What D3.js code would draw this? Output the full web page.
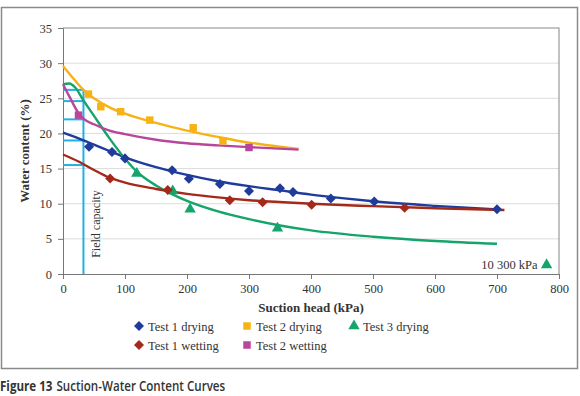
<!DOCTYPE html>
<html>
<head>
<meta charset="utf-8">
<script src="https://cdn.jsdelivr.net/npm/d3@7"></script>
<style>
  body { margin: 0; background: #fff; }
  svg text { font-family: "Liberation Serif", "DejaVu Serif", serif; fill: #333; }
</style>
</head>
<body>
<div id="chart"></div>
<script>
// measured points
const test1Drying = [[42,18.1],[79,17.35],[100,16.45],[176,14.75],[203,13.55],[253,12.8],[300,11.8],[350,12.2],[371,11.65],[432,10.75],[502,10.3],[700,9.2]];
const test1Wetting = [[76,13.6],[169,11.95],[269,10.5],[322,10.2],[401,9.86],[551,9.43]];
const test2Drying = [[41,25.6],[61,23.8],[93,23.1],[140,21.9],[210,20.8],[258,18.95]];
const test2Wetting = [[25,22.6],[300,18.0]];
const test3Drying = [[119,14.3],[177,11.8],[205,9.2],[346,6.5]];

// fitted curves
const fit1Drying = [[0,20.1],[25,19.3],[50,18.4],[75,17.5],[100,16.6],[150,15.2],[200,14.1],[250,13.2],[300,12.5],[350,11.9],[400,11.3],[450,10.8],[500,10.35],[600,9.7],[700,9.2]];
const fit1Wetting = [[0,17.0],[25,16.0],[50,14.8],[75,13.7],[100,13.0],[150,12.1],[200,11.4],[250,10.9],[300,10.5],[400,10.0],[500,9.65],[600,9.35],[712,9.1]];
const fit2Drying = [[0,29.6],[15,28.0],[33,26.2],[50,25.0],[75,23.7],[100,22.8],[150,21.5],[200,20.4],[250,19.5],[300,18.7],[350,18.1],[380,17.8]];
const fit2Wetting = [[0,27.0],[10,25.3],[25,22.9],[33,22.1],[50,21.3],[75,20.4],[100,19.9],[150,19.1],[200,18.6],[250,18.3],[300,18.05],[380,17.7]];
const fit3Drying = [[0,27.0],[10,27.1],[20,26.5],[33,24.7],[50,22.5],[75,19.3],[100,16.4],[120,14.5],[150,12.6],[175,11.4],[200,10.4],[250,8.9],[300,7.8],[350,6.9],[400,6.2],[500,5.3],[600,4.7],[700,4.3]];

const fieldCapacity = 33;
const fieldLevels = [26.2, 24.6, 22.0, 19.0, 15.5];
const outlier = {label: "10 300 kPa", x: 780, y: 1.3};

const xTicks = [0,100,200,300,400,500,600,700,800];
const yTicks = [0,5,10,15,20,25,30,35];

const series = [
  {name: "Test 1 drying",  pts: test1Drying,  fit: fit1Drying,  color: "#1f3b9b", sym: d3.symbolDiamond2, size: 64},
  {name: "Test 2 drying",  pts: test2Drying,  fit: fit2Drying,  color: "#f7b215", sym: d3.symbolSquare,   size: 56},
  {name: "Test 3 drying",  pts: test3Drying,  fit: fit3Drying,  color: "#14a46c", sym: d3.symbolTriangle, size: 56},
  {name: "Test 1 wetting", pts: test1Wetting, fit: fit1Wetting, color: "#a32a1b", sym: d3.symbolDiamond2, size: 64},
  {name: "Test 2 wetting", pts: test2Wetting, fit: fit2Wetting, color: "#b8469c", sym: d3.symbolSquare,   size: 56}
];

const W = 580, H = 396;
const svg = d3.select("#chart").append("svg")
    .attr("width", W).attr("height", H);

// outer frame
svg.append("rect").attr("x", 1.5).attr("y", 7.5).attr("width", 576).attr("height", 361)
    .attr("fill", "none").attr("stroke", "#8a8a8a").attr("stroke-width", 1.5);

const x = d3.scaleLinear().domain([0, 800]).range([63, 559]);
const y = d3.scaleLinear().domain([0, 35]).range([274, 28]);

// gridlines
svg.append("g").selectAll("line").data(yTicks.filter(d => d > 0)).join("line")
    .attr("x1", x(0)).attr("x2", x(800))
    .attr("y1", d => y(d)).attr("y2", d => y(d))
    .attr("stroke", "#dcdcdc").attr("stroke-width", 1);

// plot box top/right
svg.append("path")
    .attr("d", `M${x(0)},${y(35)}H${x(800)}V${y(0)}`)
    .attr("fill", "none").attr("stroke", "#999").attr("stroke-width", 1.2);

// axes
const xAxis = svg.append("g").attr("transform", `translate(0,${y(0)})`)
    .call(d3.axisBottom(x).tickValues(xTicks).tickSize(5).tickPadding(5));
const yAxis = svg.append("g").attr("transform", `translate(${x(0)},0)`)
    .call(d3.axisLeft(y).tickValues(yTicks).tickSize(5).tickPadding(6));
[xAxis, yAxis].forEach(a => {
  a.selectAll("path,line").attr("stroke", "#777");
  a.selectAll("text").style("font-family", "'Liberation Serif', serif").style("font-size", "12.5px").attr("fill", "#444");
});

// field capacity
svg.append("g").selectAll("line").data(fieldLevels).join("line")
    .attr("x1", x(0)).attr("x2", x(fieldCapacity))
    .attr("y1", d => y(d)).attr("y2", d => y(d))
    .attr("stroke", "#1fb0e6").attr("stroke-width", 2);
svg.append("line")
    .attr("x1", x(fieldCapacity)).attr("x2", x(fieldCapacity))
    .attr("y1", y(0)).attr("y2", y(d3.max(fieldLevels)))
    .attr("stroke", "#1fb0e6").attr("stroke-width", 2);
svg.append("text")
    .attr("transform", `translate(${x(fieldCapacity) + 17},${y(2.3)}) rotate(-90)`)
    .style("font-size", "12px").attr("fill", "#444")
    .text("Field capacity");

// fitted curves
const line = d3.line().x(d => x(d[0])).y(d => y(d[1])).curve(d3.curveMonotoneX);
svg.append("g").selectAll("path").data(series).join("path")
    .attr("d", d => line(d.fit))
    .attr("fill", "none").attr("stroke", d => d.color).attr("stroke-width", 2.4);

// markers
series.forEach(s => {
  svg.append("g").selectAll("path").data(s.pts).join("path")
      .attr("transform", d => `translate(${x(d[0])},${y(d[1])})`)
      .attr("d", d3.symbol(s.sym, s.size))
      .attr("fill", s.color);
});

// off-scale point
svg.append("path")
    .attr("transform", `translate(${x(outlier.x)},${y(outlier.y)})`)
    .attr("d", d3.symbol(d3.symbolTriangle, 56))
    .attr("fill", series[2].color);
svg.append("text")
    .attr("x", x(outlier.x) - 9).attr("y", y(outlier.y) + 4.5)
    .attr("text-anchor", "end").style("font-size", "12.5px").attr("fill", "#444")
    .text(outlier.label);

// axis titles
svg.append("text")
    .attr("x", (x(0) + x(800)) / 2).attr("y", 312)
    .attr("text-anchor", "middle").style("font-size", "13px").style("font-weight", "bold").attr("fill", "#222")
    .text("Suction head (kPa)");
svg.append("text")
    .attr("transform", `translate(29,${(y(0) + y(35)) / 2}) rotate(-90)`)
    .attr("text-anchor", "middle").style("font-size", "13px").style("font-weight", "bold").attr("fill", "#222")
    .text("Water content (%)");

// legend
const legendPos = [[139,326],[247,326],[354,326],[139,345],[247,345]];
series.forEach((s, i) => {
  const [lx, ly] = legendPos[i];
  svg.append("path")
      .attr("transform", `translate(${lx},${ly})`)
      .attr("d", d3.symbol(s.sym, s.size))
      .attr("fill", s.color);
  svg.append("text")
      .attr("x", lx + 9).attr("y", ly + 4.5)
      .style("font-size", "12.5px").attr("fill", "#333")
      .text(s.name);
});

// caption: original uses a condensed face, so squeeze horizontally
const capG = svg.append("g").attr("transform", "translate(0,391) scale(0.8,1)");
const capFont = "'Open Sans', sans-serif";
const capBold = capG.append("text").attr("x", 0).attr("y", 0)
    .style("font-family", capFont).style("font-size", "14.5px").style("font-weight", "bold").attr("fill", "#111")
    .text("Figure 13");
const boldW = capBold.node().getComputedTextLength();
capG.append("text").attr("x", boldW + 5).attr("y", 0)
    .style("font-family", capFont).style("font-size", "14.5px").style("font-weight", "600").attr("fill", "#222")
    .text("Suction-Water Content Curves");
</script>
</body>
</html>
